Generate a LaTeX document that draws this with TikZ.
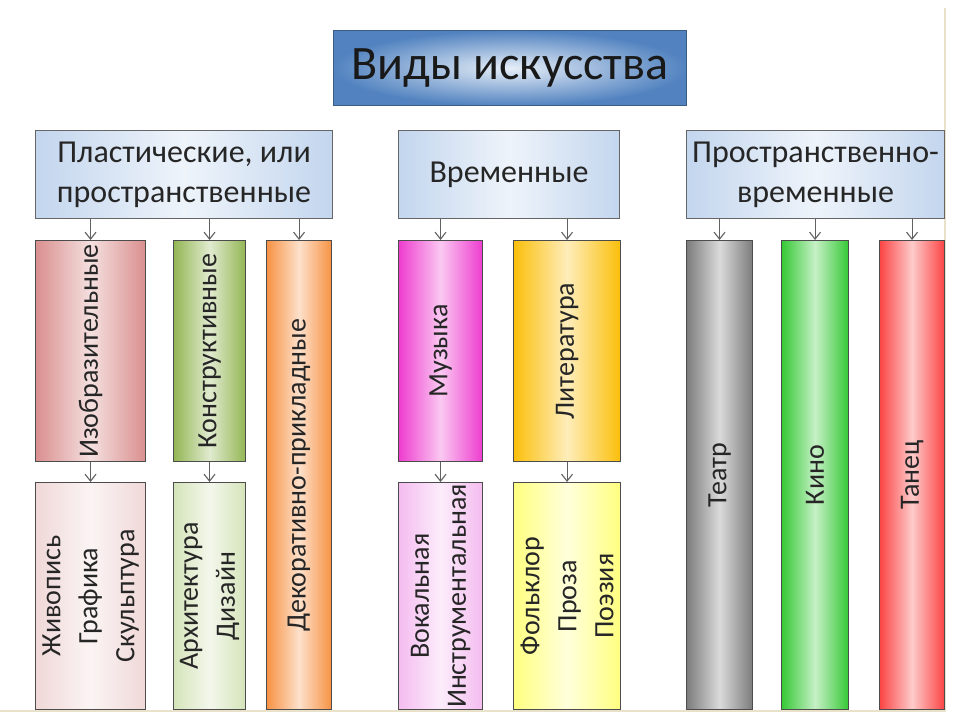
\documentclass[tikz,border=0pt]{standalone}
\usepackage{fontspec}
\setmainfont{Carlito}
\usetikzlibrary{arrows.meta}

\definecolor{titleblue}{HTML}{5283C0}
\definecolor{titlelight}{HTML}{E6EEF8}
\definecolor{titleedge}{HTML}{3B5C85}
\definecolor{grpblue}{HTML}{C3D6EE}
\definecolor{izocol}{HTML}{D98F8E}
\definecolor{konstrcol}{HTML}{93B654}
\definecolor{dekorcol}{HTML}{F79244}
\definecolor{muzcol}{HTML}{EE3CCF}
\definecolor{litcol}{HTML}{FBBF0A}
\definecolor{teatrcol}{HTML}{7C7C7C}
\definecolor{kinocol}{HTML}{35C935}
\definecolor{taneccol}{HTML}{FB4444}
\definecolor{zhivcol}{HTML}{F0D8D8}
\definecolor{arkhcol}{HTML}{D5E4BA}
\definecolor{vokcol}{HTML}{F4BCF0}
\definecolor{folkcol}{HTML}{FFFF80}
\definecolor{pagecol}{HTML}{E9E1C9}

\begin{document}
\begin{tikzpicture}[x=1pt,y=-1pt,
 box/.style={draw=black!70, line width=1.1pt, inner sep=0pt, anchor=north west},
 tone/.style={left color=#1, right color=#1, middle color=#1!28!white},
 grp/.style={box, draw=black!60, tone=grpblue, text=black!85, align=center,
   font=\fontsize{32}{40}\selectfont, minimum height=88pt},
 vtext/.style={label={[rotate=90, text=black!85, align=center,
   font=\fontsize{28}{37}\selectfont]center:{#1}}},
 arr/.style={draw=black!62, line width=1.1pt, ->, >={Straight Barb[length=7pt, width=11pt]}}]
\useasboundingbox (0,0) rectangle (960,720);
% page edges
\draw[pagecol, line width=1.5pt] (0,711) -- (946,711);
\draw[pagecol, line width=1.5pt] (945,8) -- (945,711);
% title
\node[box, draw=titleedge, line width=1.3pt, inner color=titlelight, outer color=titleblue,
  minimum width=353pt, minimum height=75pt, text=black!90,
  font=\fontsize{48}{52}\selectfont] (vidy) at (333,30) {Виды искусства};
% groups
\node[grp, minimum width=297pt] (plast) at (35,130) {Пластические, или\\пространственные};
\node[grp, minimum width=221pt] (vrem) at (398,130) {Временные};
\node[grp, minimum width=258pt] (prvr) at (686,130) {Пространственно-\\временные};
% kinds
\node[box, tone=izocol, minimum width=110pt, minimum height=221pt, vtext=Изобразительные] (izo) at (35,240) {};
\node[box, tone=konstrcol, minimum width=72pt, minimum height=221pt, vtext=Конструктивные] (konstr) at (173,240) {};
\node[box, tone=dekorcol, minimum width=65pt, minimum height=469pt, vtext=Декоративно-прикладные] (dekor) at (266,240) {};
\node[box, tone=muzcol, minimum width=84pt, minimum height=221pt, vtext=Музыка] (muz) at (398,240) {};
\node[box, tone=litcol, minimum width=107pt, minimum height=221pt, vtext=Литература] (lit) at (513,240) {};
\node[box, tone=teatrcol, minimum width=66pt, minimum height=469pt, vtext=Театр] (teatr) at (686,240) {};
\node[box, tone=kinocol, minimum width=67pt, minimum height=469pt, vtext=Кино] (kino) at (781,240) {};
\node[box, tone=taneccol, minimum width=65pt, minimum height=469pt, vtext=Танец] (tanec) at (879,240) {};
% genres
\node[box, tone=zhivcol, minimum width=110pt, minimum height=227pt, vtext={Живопись\\Графика\\Скульптура}] (zhiv) at (35,482) {};
\node[box, tone=arkhcol, minimum width=72pt, minimum height=227pt, vtext={Архитектура\\Дизайн}] (arkh) at (173,482) {};
\node[box, tone=vokcol, minimum width=84pt, minimum height=227pt, vtext={Вокальная\\Инструментальная}] (vok) at (398,482) {};
\node[box, tone=folkcol, minimum width=107pt, minimum height=227pt, vtext={Фольклор\\Проза\\Поэзия}] (folk) at (513,482) {};
% arrows
\foreach \n in {izo,konstr,dekor}
  \draw[arr] (plast.south -| \n.north) -- (\n.north);
\foreach \n in {muz,lit}
  \draw[arr] (vrem.south -| \n.north) -- (\n.north);
\foreach \n in {teatr,kino,tanec}
  \draw[arr] (prvr.south -| \n.north) -- (\n.north);
\draw[arr] (izo.south) -- (zhiv.north);
\draw[arr] (konstr.south) -- (arkh.north);
\draw[arr] (muz.south) -- (vok.north);
\draw[arr] (lit.south) -- (folk.north);
\end{tikzpicture}
\end{document}
